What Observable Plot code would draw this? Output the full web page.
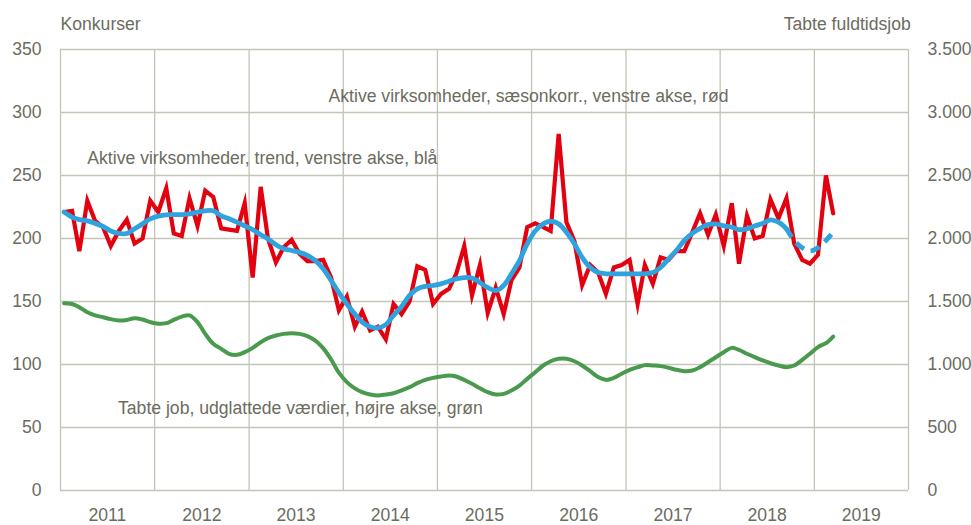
<!DOCTYPE html>
<html>
<head>
<meta charset="utf-8">
<script src="https://cdn.jsdelivr.net/npm/d3@7"></script>
<script src="https://cdn.jsdelivr.net/npm/@observablehq/plot@0.6"></script>
<style>
  html, body { margin: 0; padding: 0; background: #ffffff; }
  #chart { width: 971px; height: 525px; }
</style>
</head>
<body>
<div id="chart"></div>
<script>
// Monthly data, Jan 2011 – Mar 2019
const startYear = 2011;
const red = [221,222,190,230,214,209,194,206,215,196,200,230,221,240,204,202,232,210,238,233,208,207,206,228,169,241,200,181,193,199,188,182,182,183,169,143,154,130,142,127,130,120,148,140,150,178,175,148,156,160,172,194,155,179,141,161,140,167,177,209,212,209,206,283,213,198,163,179,173,156,177,179,183,148,179,164,185,183,190,190,205,220,203,219,194,228,180,218,200,202,231,216,232,196,183,180,187,250,220];
const blue = [221,217,215,214,212,209.5,206,204,204,207.7,211.6,215.6,217.7,218.8,219,219,219.6,221,222,222,218,215.6,213,210,207,203,199.7,195,191.8,190.5,189,186.5,182.5,176,166.7,157,148,140,133.6,130,129,131.7,139,146,154.8,160,162,162.7,164,166,168,169,168.7,165,161,158.7,162.7,172,182.5,195.8,206,211.6,213.7,211.6,205,195.8,185,177,173,172,172,172,172,172,172,173,177,183.9,190.5,198.4,204,208,211,211.6,210,209,207,207.7,210,212,214.8,213,207.7,198.4,192.6,190,192.6,198.4,205];
const blueDashFrom = 92;
const greenJobs = [1487,1480,1455,1415,1390,1375,1360,1350,1354,1368,1357,1336,1323,1328,1354,1380,1390,1336,1243,1164,1124,1085,1077,1098,1132,1177,1209,1230,1243,1249,1243,1225,1190,1130,1040,935,860,810,780,762,754,762,772,794,820,852,878,894,905,913,905,878,847,812,780,762,767,794,833,886,939,992,1026,1045,1045,1026,992,947,900,878,894,926,958,979,995,992,987,974,958,947,952,979,1018,1058,1098,1132,1116,1085,1058,1032,1010,992,979,992,1037,1085,1138,1169,1222];

const years = [2011,2012,2013,2014,2015,2016,2017,2018,2019];
const leftTicks = [0,50,100,150,200,250,300,350];
const rightTickLabels = ["0","500","1.000","1.500","2.000","2.500","3.000","3.500"];
const axisRatio = 10; // right axis units per left axis unit

const labelRed = "Aktive virksomheder, sæsonkorr., venstre akse, rød";
const labelBlue = "Aktive virksomheder, trend, venstre akse, blå";
const labelGreen = "Tabte job, udglattede værdier, højre akse, grøn";
const titleLeft = "Konkurser";
const titleRight = "Tabte fuldtidsjob";

// Build tables
const date = i => new Date(Date.UTC(startYear, i, 15));
const redData = red.map((v, i) => ({date: date(i), v}));
const blueData = blue.map((v, i) => ({date: date(i), v, i}));
const greenData = greenJobs.map((v, i) => ({date: date(i), v: v / axisRatio}));
const yearEdges = [...years, years[years.length - 1] + 1].map(y => new Date(Date.UTC(y, 0, 1)));
const yearMids = years.map(y => new Date(Date.UTC(y, 6, 2)));

const annotations = [
  {date: new Date(Date.UTC(2013, 10, 5)), v: 313, text: labelRed, anchor: "start"},
  {date: new Date(Date.UTC(2011, 3, 15)), v: 264, text: labelBlue, anchor: "start"},
  {date: new Date(Date.UTC(2011, 7, 12)), v: 65, text: labelGreen, anchor: "start"},
  {date: new Date(Date.UTC(2011, 0, 1)), v: 370, text: titleLeft, anchor: "start"},
  {date: new Date(Date.UTC(2020, 0, 10)), v: 370, text: titleRight, anchor: "end"}
];

const gridColor = "#c4c4b8";
const textColor = "#6c6c5e";

const chart = Plot.plot({
  width: 971,
  height: 525,
  marginLeft: 60,
  marginRight: 63,
  marginTop: 49,
  marginBottom: 35,
  style: {fontFamily: "'Liberation Sans', Arial, sans-serif", fontSize: "17.6px", color: textColor, background: "#ffffff", overflow: "visible"},
  x: {type: "utc", domain: [yearEdges[0], yearEdges[yearEdges.length - 1]]},
  y: {domain: [0, 350]},
  marks: [
    Plot.ruleX(yearEdges, {stroke: gridColor, strokeWidth: 1.3}),
    Plot.ruleY(leftTicks, {stroke: gridColor, strokeWidth: 1.3}),
    Plot.axisY(leftTicks, {anchor: "left", tickSize: 0, tickPadding: 19, label: null, fill: textColor}),
    Plot.axisY(leftTicks, {anchor: "right", tickSize: 0, tickPadding: 19, label: null, fill: textColor,
      tickFormat: d => rightTickLabels[leftTicks.indexOf(d)]}),
    Plot.axisX(yearMids, {anchor: "bottom", tickSize: 0, tickPadding: 18, label: null, fill: textColor,
      tickFormat: d => String(d.getUTCFullYear())}),
    Plot.line(greenData, {x: "date", y: "v", stroke: "#4a9a4e", strokeWidth: 4, curve: "catmull-rom"}),
    Plot.line(redData, {x: "date", y: "v", stroke: "#e3000f", strokeWidth: 4.2, strokeLinejoin: "miter", strokeMiterlimit: 6}),
    Plot.line(blueData.filter(d => d.i <= blueDashFrom), {x: "date", y: "v", stroke: "#2ea3dd", strokeWidth: 4.8, curve: "catmull-rom"}),
    Plot.line(blueData.filter(d => d.i >= blueDashFrom), {x: "date", y: "v", stroke: "#2ea3dd", strokeWidth: 4.8, curve: "catmull-rom", strokeDasharray: "10,7", strokeLinecap: "butt"}),
    Plot.text(annotations.filter(d => d.anchor === "start"), {x: "date", y: "v", text: "text", textAnchor: "start", lineAnchor: "middle", fill: textColor}),
    Plot.text(annotations.filter(d => d.anchor === "end"), {x: "date", y: "v", text: "text", textAnchor: "end", lineAnchor: "middle", fill: textColor})
  ]
});
document.getElementById("chart").appendChild(chart);
</script>
</body>
</html>
